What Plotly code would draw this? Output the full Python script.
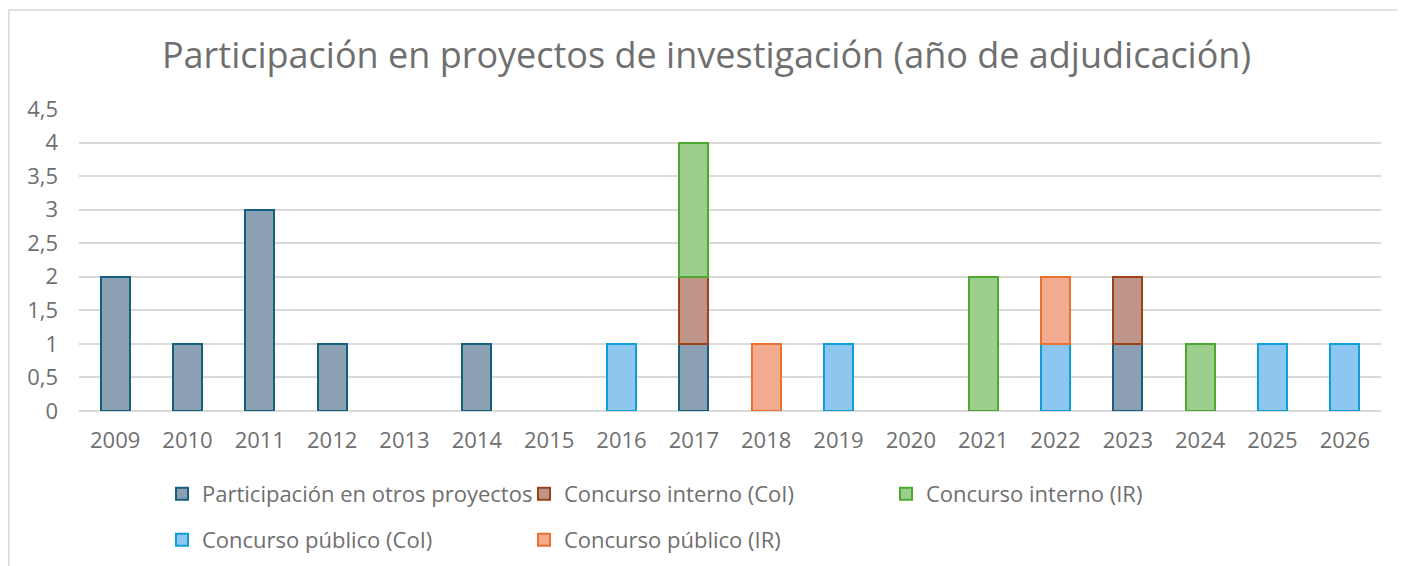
import plotly.graph_objects as go

years = [str(y) for y in range(2009, 2027)]

otros = [2, 1, 3, 1, 0, 1, 0, 0, 1, 0, 0, 0, 0, 0, 1, 0, 0, 0]
interno_coi = [0, 0, 0, 0, 0, 0, 0, 0, 1, 0, 0, 0, 0, 0, 1, 0, 0, 0]
interno_ir = [0, 0, 0, 0, 0, 0, 0, 0, 2, 0, 0, 0, 2, 0, 0, 1, 0, 0]
publico_coi = [0, 0, 0, 0, 0, 0, 0, 1, 0, 0, 1, 0, 0, 1, 0, 0, 1, 1]
publico_ir = [0, 0, 0, 0, 0, 0, 0, 0, 0, 1, 0, 0, 0, 1, 0, 0, 0, 0]

y_ticks = [0, 0.5, 1, 1.5, 2, 2.5, 3, 3.5, 4, 4.5]
y_labels = ["0", "0,5", "1", "1,5", "2", "2,5", "3", "3,5", "4", "4,5"]

series = [
    ("Participación en otros proyectos", otros, "#8ba1b3", "#15607f", "legend"),
    ("Concurso interno (CoI)", interno_coi, "#bf958a", "#9e4219", "legend"),
    ("Concurso interno (IR)", interno_ir, "#9ccf8e", "#4ea72e", "legend"),
    ("Concurso público (CoI)", publico_coi, "#8dc6ee", "#0f9ed5", "legend2"),
    ("Concurso público (IR)", publico_ir, "#f3ab8f", "#e97132", "legend2"),
]

FONT = "Open Sans"
GRAY = "#6f6f6f"

fig = go.Figure()
for name, vals, fill, line, lg in series:
    fig.add_trace(go.Bar(
        x=years, y=[v if v else None for v in vals], name=name,
        marker=dict(color=fill, line=dict(color=line, width=2)),
        legend=lg,
    ))

# the page body adds an 8px offset; coordinates below are in figure pixels
W, H = 1405, 566
L, R, T, B = 71, 32, 101, 163
pw, ph = W - L - R, H - T - B


def px(x):
    return (x - L) / pw


def py(y):
    return (H - B - y) / ph


legend_common = dict(
    orientation="h", xanchor="left", yanchor="middle", x=px(154), yref="container",
    font=dict(family=FONT, size=22, color=GRAY), entrywidth=317,
    itemclick=False, bgcolor="rgba(0,0,0,0)", traceorder="normal",
)

fig.update_layout(
    width=W, height=H,
    margin=dict(l=L, r=R, t=T, b=B),
    barmode="stack", bargap=0.6,
    paper_bgcolor="white", plot_bgcolor="white",
    title=dict(text="Participación en proyectos de investigación (año de adjudicación)",
               x=px(W / 2 + 4 - 8), xref="paper", xanchor="center",
               y=1 - 47 / H, yanchor="middle",
               font=dict(family=FONT, size=36, color=GRAY)),
    xaxis=dict(type="category", showgrid=False, showline=False, zeroline=False,
               tickfont=dict(family=FONT, size=22, color=GRAY), ticks="",
               ticklabelstandoff=14),
    yaxis=dict(range=[0, 4.5], showgrid=True, gridcolor="#d9d9d9", gridwidth=1.5,
               zeroline=True, zerolinecolor="#d9d9d9", zerolinewidth=1.5,
               tickfont=dict(family=FONT, size=22, color=GRAY), ticks="",
               ticklabelstandoff=20, tickvals=y_ticks, ticktext=y_labels),
    legend=dict(y=1 - 486 / H, **legend_common),
    legend2=dict(y=1 - 532 / H, **legend_common),
    showlegend=True,
    shapes=[
        dict(type="line", xref="paper", yref="paper", x0=px(0.75), x1=px(W + 5), y0=py(2), y1=py(2),
             line=dict(color="#d9d9d9", width=1.5)),
        dict(type="line", xref="paper", yref="paper", x0=px(0.75), x1=px(0.75), y0=py(2), y1=py(H + 5),
             line=dict(color="#d9d9d9", width=1.5)),
    ],
)

fig.write_html("out.html")
